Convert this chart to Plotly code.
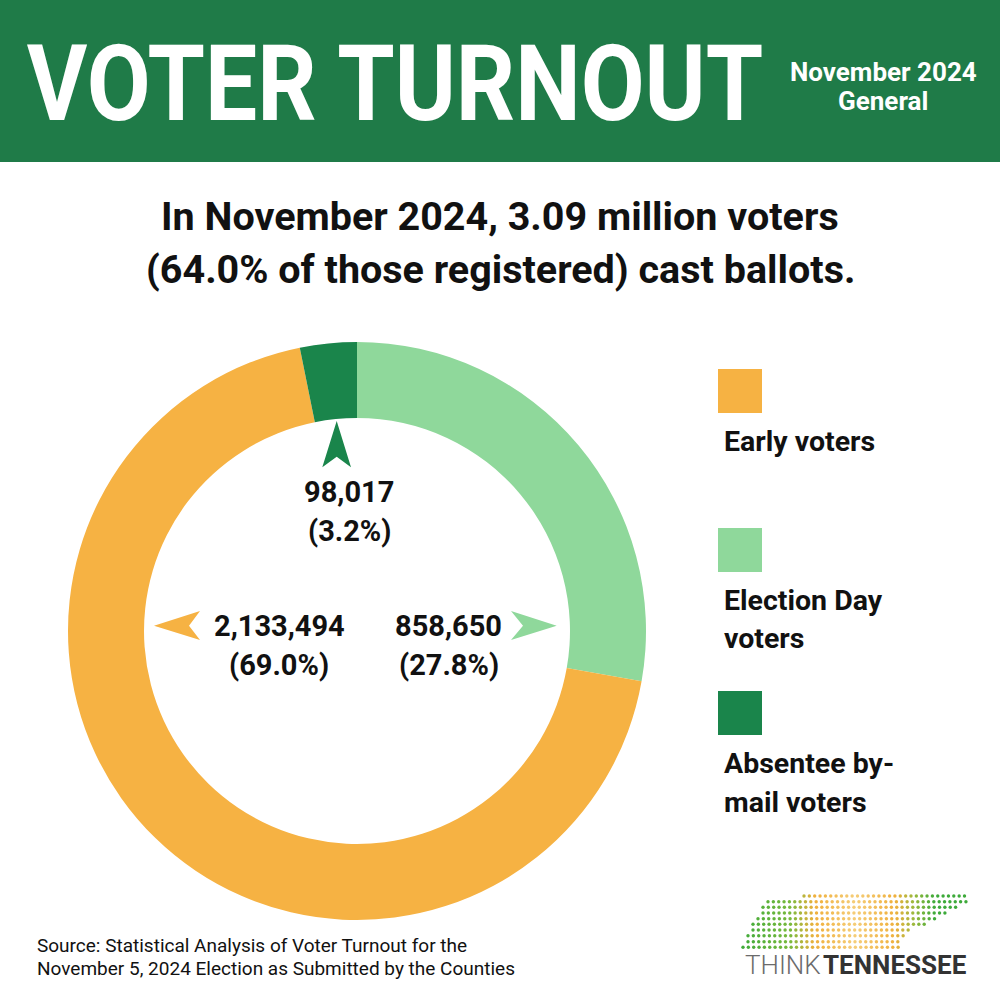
import plotly.graph_objects as go

# ---------------- data ----------------
categories = ["Early voters", "Election Day voters", "Absentee by-mail voters"]
legend_lines = [["Early voters"], ["Election Day", "voters"], ["Absentee by-", "mail voters"]]
votes = [2133494, 858650, 98017]
shares = [69.0, 27.8, 3.2]
colors = ["#F6B243", "#8FD89B", "#1A854B"]
# clockwise order from 12 o'clock in the reference
pie_order = [1, 0, 2]

HEADER_GREEN = "#1F7B48"
FONT = "Roboto, 'Noto Sans', sans-serif"

fig = go.Figure()

# donut
fig.add_trace(go.Pie(
    labels=[categories[i] for i in pie_order],
    values=[votes[i] for i in pie_order],
    marker=dict(colors=[colors[i] for i in pie_order], line=dict(width=0)),
    sort=False, direction="clockwise", rotation=0,
    hole=0.737, textinfo="none", hoverinfo="label+value+percent",
    domain=dict(x=[0.068, 0.646], y=[0.080, 0.658]),
    showlegend=False,
))

# ---------------- logo dots (decoration) ----------------
logo_rows = [  # (y, x_start, x_end)
    (896, 804, 967), (901.7, 768, 967), (907.3, 763, 958), (913, 763, 947),
    (918.7, 758, 938), (924.3, 753, 927), (930, 753, 912), (935.7, 748, 907),
    (941.7, 748, 902), (947.3, 743, 902),
]
stops = [(740, (61, 170, 58)), (790, (120, 185, 60)), (815, (240, 176, 60)),
         (855, (245, 205, 120)), (895, (240, 176, 60)), (915, (150, 185, 60)),
         (935, (61, 170, 58)), (980, (61, 170, 58))]


def dot_color(x):
    for (x0, c0), (x1, c1) in zip(stops[:-1], stops[1:]):
        if x0 <= x <= x1:
            t = (x - x0) / (x1 - x0)
            return "rgb(%d,%d,%d)" % tuple(round(a + (b - a) * t) for a, b in zip(c0, c1))
    return "rgb(61,170,58)"


dx, dy_, dc = [], [], []
for (yy, xs, xe) in logo_rows:
    x = xs
    while x <= xe + 0.1:
        dx.append(x); dy_.append(yy); dc.append(dot_color(x))
        x += 5.35
fig.add_trace(go.Scatter(x=dx, y=dy_, mode="markers",
                         marker=dict(size=3.4, color=dc, line=dict(width=0)),
                         hoverinfo="skip", showlegend=False))

shapes = []
# header band
shapes.append(dict(type="rect", xref="x", yref="y", x0=0, x1=1000, y0=0, y1=162,
                   fillcolor=HEADER_GREEN, line=dict(width=0), layer="below"))
# pointer arrows
arrow_paths = [
    ("M 336.7,421 L 322.3,467.3 L 336.7,456.7 L 351,467.3 Z", colors[2]),
    ("M 154,625.7 L 200,611 L 189,625.7 L 200,640 Z", colors[0]),
    ("M 556.7,625.7 L 511,611 L 523,625.7 L 511,640 Z", colors[1]),
]
for p, c in arrow_paths:
    shapes.append(dict(type="path", xref="x", yref="y", path=p, fillcolor=c, line=dict(width=0)))
# legend swatches
swatch_y = [369, 528, 691]
for yy, c in zip(swatch_y, colors):
    shapes.append(dict(type="rect", xref="x", yref="y", x0=718, x1=762, y0=yy, y1=yy + 44,
                       fillcolor=c, line=dict(width=0)))

ann = []


def text(x, y, s, size, color="#111111", bold=True, xanchor="center", family=FONT, weight=None):
    f = dict(family=family, size=size, color=color)
    if weight is not None:
        f["weight"] = weight
    elif bold:
        f["weight"] = "bold"
    ann.append(dict(x=x, y=y, xref="x", yref="y", text=s, showarrow=False,
                    xanchor=xanchor, yanchor="middle", font=f))


# header
text(395, 84, "VOTER TURNOUT", 106, "white")
text(883, 72, "November 2024", 26, "white")
text(883, 101, "General", 26, "white")

# subtitle
text(500, 216, "In November 2024, 3.09 million voters", 39.5)
text(500, 269, "(64.0% of those registered) cast ballots.", 39.5)

# slice labels
label_pos = {0: (279, 626), 1: (448.5, 626), 2: (349, 492)}
for i in range(3):
    x, y = label_pos[i]
    text(x, y, f"{votes[i]:,}", 29)
    text(x, y + 39, f"({shares[i]:.1f}%)", 29)

# legend labels
legend_text_y = [[441], [600, 638], [763, 802]]
for lines, ys in zip(legend_lines, legend_text_y):
    for s, yy in zip(lines, ys):
        text(722, yy, s, 28.5, xanchor="left")

# source
text(35, 945, "Source: Statistical Analysis of Voter Turnout for the", 19, "#111111",
     xanchor="left", weight="normal")
text(35, 968, "November 5, 2024 Election as Submitted by the Counties", 19, "#111111",
     xanchor="left", weight="normal")

# logo text
text(743, 965, "THINK", 26, "#6b6b6b", xanchor="left", weight=300)
text(969, 965, "TENNESSEE", 26, "#333333", xanchor="right", weight="bold")

fig.update_layout(
    width=1000, height=1000,
    margin=dict(l=0, r=0, t=0, b=0),
    paper_bgcolor="white", plot_bgcolor="white",
    xaxis=dict(range=[0, 1000], visible=False, fixedrange=True, domain=[0, 1]),
    yaxis=dict(range=[1000, 0], visible=False, fixedrange=True, domain=[0, 1]),
    shapes=shapes, annotations=ann,
)

post = """
document.body.style.margin = '0';
document.body.style.padding = '0';
var gd = document.getElementById('{plot_id}');
function squeeze() {
  gd.querySelectorAll('.annotation-text').forEach(function (t) {
    if (t.textContent === 'VOTER TURNOUT') {
      t.removeAttribute('transform');
      var b = t.getBBox();
      var cx = b.x + b.width / 2;
      t.setAttribute('transform', 'translate(' + cx + ',0) scale(0.875,1) translate(' + (-cx) + ',0)');
    }
  });
}
squeeze();
if (gd.on) { gd.on('plotly_afterplot', squeeze); }
setTimeout(squeeze, 200);
"""

fig.write_html("out.html", post_script=post, config={"displayModeBar": False})
